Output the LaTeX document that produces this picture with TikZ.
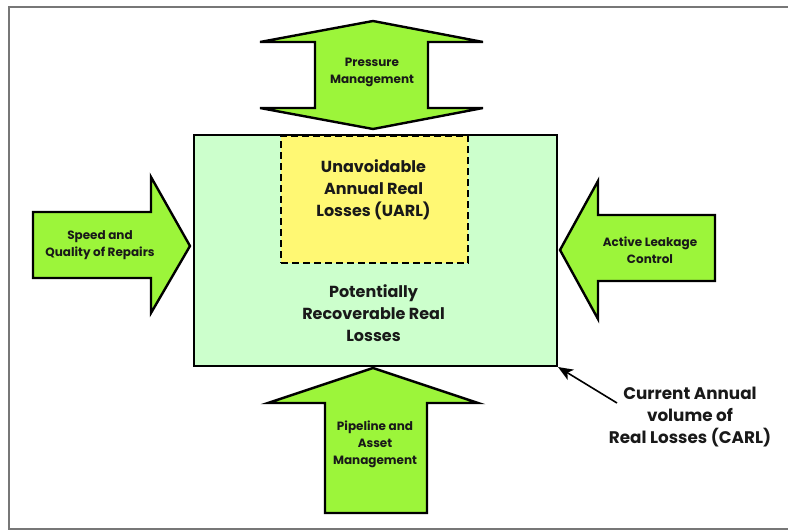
\documentclass[tikz,border=0pt]{standalone}
\usepackage{fontspec}
\setmainfont{Poppins}
\usetikzlibrary{arrows.meta}
\definecolor{arrowgreen}{HTML}{9CF53A}
\definecolor{boxgreen}{HTML}{CCFFCC}
\definecolor{uarlyellow}{HTML}{FFF873}
\definecolor{framegray}{HTML}{777777}
\tikzset{
  bigarrow/.style={fill=arrowgreen, draw=black, line width=2.4pt, line join=miter},
  lbl/.style={align=center, font=\fontsize{12}{17}\selectfont\bfseries, text=black!90},
  biglbl/.style={align=center, font=\fontsize{16}{22}\selectfont\bfseries, text=black!90},
}
\begin{document}
\begin{tikzpicture}[x=1pt, y=-1pt]
\useasboundingbox (0,0) rectangle (788,530);
% outer frame (open on the right)
\draw[framegray, line width=1.5pt] (795,7) -- (9,7) -- (9,529) -- (795,529);

% central region: all real losses
\node[draw=black, line width=2pt, fill=boxgreen, minimum width=363pt, minimum height=231pt,
      inner sep=0pt, anchor=north west] (carlbox) at (193,134) {};
% unavoidable part
\node[draw=black, line width=2pt, dash pattern=on 7pt off 4pt, fill=uarlyellow,
      minimum width=187pt, minimum height=127pt, inner sep=0pt, anchor=north west]
      (uarl) at (280,135) {};
\node[biglbl] (uarltxt) at (373.5,190) {Unavoidable\\Annual Real\\Losses (UARL)};
\node[biglbl] (prltxt) at (373.5,313) {Potentially\\Recoverable Real\\Losses};

% top double-headed arrow
\draw[bigarrow] (373,21) -- (483,42) -- (428,42) -- (428,108) -- (483,108) -- (373,129)
  -- (260,108) -- (315,108) -- (315,42) -- (260,42) -- cycle;
\node[lbl] (pm) at (372,72) {Pressure\\Management};

% left arrow
\draw[bigarrow] (33,212) -- (151,212) -- (151,177) -- (190,246) -- (151,313)
  -- (151,278) -- (33,278) -- cycle;
\node[lbl] (sq) at (100,245) {Speed and\\Quality of Repairs};

% right arrow
\draw[bigarrow] (715,215) -- (598,215) -- (598,181) -- (560,250) -- (598,319)
  -- (598,281) -- (715,281) -- cycle;
\node[lbl] (alc) at (650,250) {Active Leakage\\Control};

% bottom arrow
\draw[bigarrow] (373,368) -- (478,403) -- (427,403) -- (427,513) -- (325,513)
  -- (325,403) -- (268,403) -- cycle;
\node[lbl] (pam) at (375,444) {Pipeline and\\Asset\\Management};

% CARL label with pointer
\node[biglbl, font=\fontsize{16.8}{22}\selectfont\bfseries] (carl) at (690,417)
  {Current Annual\\volume of\\Real Losses (CARL)};
\coordinate (carltail) at (617,403);
\draw[line width=1.6pt, -{Stealth[length=15pt, width=12pt, inset=4pt]}] (carltail) -- (carlbox.south east);
\end{tikzpicture}
\end{document}
